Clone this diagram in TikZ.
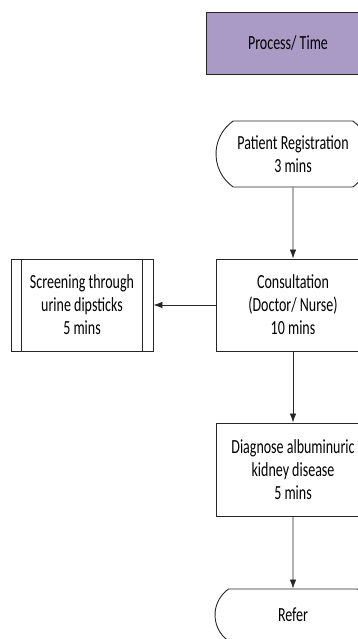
\documentclass[tikz,border=0pt]{standalone}
\usepackage{fontspec}
\setmainfont{Carlito}[FakeStretch=0.7]
\definecolor{lavender}{HTML}{A99BC6}
\definecolor{edgegray}{HTML}{262626}
\usetikzlibrary{arrows.meta, shapes.misc, positioning}

\begin{document}
\begin{tikzpicture}[x=1pt, y=-1pt, >={Latex[length=9pt, width=6.5pt]},
    box/.style={draw=edgegray, line width=0.9pt, align=center, inner sep=0pt,
      font=\fontsize{20}{23}\selectfont},
    terminal/.style={box, rounded rectangle, rounded rectangle arc length=110},
    flow/.style={->, draw=edgegray, line width=0.8pt}]
  \useasboundingbox (0,0) rectangle (358,639);
  \clip (0,0) rectangle (358,639);
  % Header
  \node[box, fill=lavender, minimum width=164pt, minimum height=62pt]
    (time) at (288,43) {Process/ Time};
  % Main column
  \node[terminal, minimum width=154pt, minimum height=66pt]
    (reg) at (293,154) {Patient Registration\\3 mins};
  \node[box, minimum width=154pt, minimum height=92pt]
    (cons) at (293,305) {Consultation\\(Doctor/ Nurse)\\10 mins};
  \node[box, minimum width=154pt, minimum height=93pt]
    (diag) at (293,469.5) {Diagnose albuminuric\\kidney disease\\5 mins};
  \node[terminal, minimum width=156pt, minimum height=52pt]
    (refer) at (293,615) {Refer};
  % Side process
  \node[box, minimum width=142pt, minimum height=92pt]
    (scr) at (82,305) {Screening through\\urine dipsticks\\5 mins};
  \draw[edgegray, line width=0.9pt]
    ([xshift=11pt]scr.north west) -- ([xshift=11pt]scr.south west)
    ([xshift=-11pt]scr.north east) -- ([xshift=-11pt]scr.south east);
  % Connectors
  \draw[flow] (reg) -- (cons);
  \draw[flow] (cons) -- (scr);
  \draw[flow] (cons) -- (diag);
  \draw[flow] (diag) -- (refer);
\end{tikzpicture}
\end{document}
